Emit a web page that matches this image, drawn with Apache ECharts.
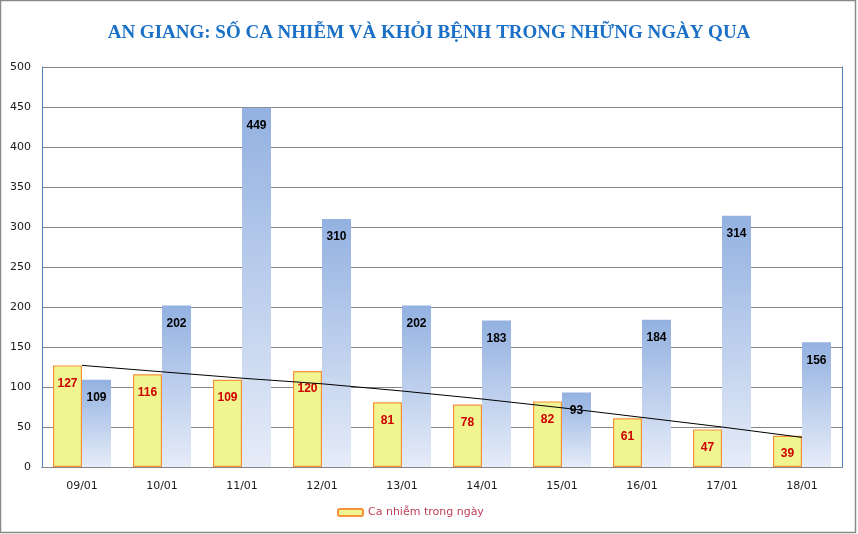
<!DOCTYPE html>
<html><head><meta charset="utf-8">
<script src="https://cdn.jsdelivr.net/npm/echarts@6/dist/echarts.min.js"></script>
<style>html,body{margin:0;padding:0;background:#fff}#c{width:858px;height:534px}</style>
</head><body><div id="c"></div>
<script>
var categories = ['09/01','10/01','11/01','12/01','13/01','14/01','15/01','16/01','17/01','18/01'];
var caNhiem = [127,116,109,120,81,78,82,61,47,39];
var khoiBenh = [109,202,449,310,202,183,93,184,314,156];
var trendLine = [127,119,111,104,95,85,74,62,50,37];
var yTicks = {min:0, max:500, interval:50};

var chart = echarts.init(document.getElementById('c'), null, {renderer:'canvas'});
var blue = '#4f81bd';
chart.setOption({
  animation:false,
  backgroundColor:'#fff',
  title:{
    text:'AN GIANG: SỐ CA NHIỄM VÀ KHỎI BỆNH TRONG NHỮNG NGÀY QUA',
    left:'center', top:19,
    textStyle:{fontFamily:'Liberation Serif', fontWeight:'bold', fontSize:19, color:'#1a70c6'}
  },
  graphic:[{type:'rect', shape:{x:0.5,y:0.5,width:855,height:532}, style:{fill:'none',stroke:'#8a8a8a',lineWidth:1.5}, silent:true}],
  legend:{
    data:['Ca nhiễm trong ngày'], left:332, top:502,
    itemWidth:25, itemHeight:7, itemGap:6,
    textStyle:{fontFamily:'DejaVu Sans', fontSize:11, color:'#c0405a'}
  },
  grid:{left:42, right:16, top:67, bottom:67},
  xAxis:[{
    type:'category', data:categories,
    axisLine:{lineStyle:{color:'#868686'}}, z:3,
    axisTick:{show:false},
    axisLabel:{fontFamily:'DejaVu Sans', fontSize:11, color:'#1a1a1a', margin:14}
  },{
    type:'category', data:categories, position:'top',
    axisLine:{lineStyle:{color:blue}}, axisTick:{show:false}, axisLabel:{show:false}
  }],
  yAxis:[{
    type:'value', min:yTicks.min, max:yTicks.max, interval:yTicks.interval,
    axisLine:{show:true, lineStyle:{color:blue}},
    axisTick:{show:false},
    splitLine:{lineStyle:{color:'#868686'}},
    axisLabel:{fontFamily:'DejaVu Sans', fontSize:11, color:'#1a1a1a', margin:11}
  },{
    type:'value', min:yTicks.min, max:yTicks.max, interval:yTicks.interval, position:'right',
    axisLine:{show:true, lineStyle:{color:blue}}, axisTick:{show:false},
    splitLine:{show:false}, axisLabel:{show:false}
  }],
  series:[
    {name:'Ca nhiễm trong ngày', type:'bar', data:caNhiem, barWidth:29, barGap:'0%',
     itemStyle:{color:'#f1f591', borderColor:'#f7923a', borderWidth:1.2},
     label:{show:true, position:'insideTop', distance:12, fontFamily:'Liberation Sans', fontWeight:'bold', fontSize:12, color:'#cc0000'}},
    {name:'Khỏi bệnh', type:'bar', data:khoiBenh, barWidth:29,
     itemStyle:{color:new echarts.graphic.LinearGradient(0,0,0,1,[{offset:0,color:'#93b1e1'},{offset:1,color:'#e6ecf8'}])},
     label:{show:true, position:'insideTop', distance:12, fontFamily:'Liberation Sans', fontWeight:'bold', fontSize:12, color:'#000'}},
    {name:'Xu hướng', type:'line', data:trendLine, symbol:'none', z:5,
     lineStyle:{color:'#000', width:1}}
  ]
});
</script></body></html>
